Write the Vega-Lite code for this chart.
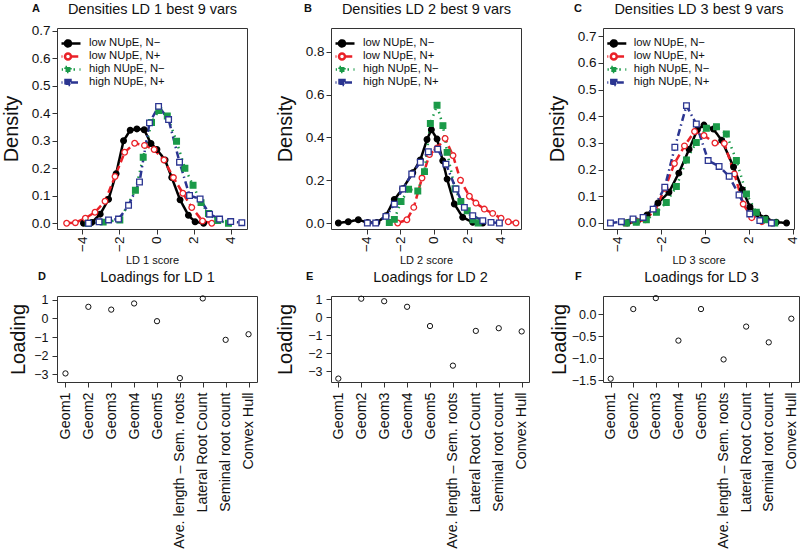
{
"$schema": "https://vega.github.io/schema/vega-lite/v6.json",
"background": "white",
"padding": 0,
"bounds": "flush",
"columns": 3,
"align": "each",
"spacing": {"row": 67, "column": 74},
"config": {
  "font": "Liberation Sans",
  "view": {"stroke": "#333333", "strokeWidth": 1},
  "axis": {"grid": false, "domain": false, "tickColor": "#333333", "tickWidth": 1, "labelColor": "#111111", "titleColor": "#111111", "titleFontWeight": "normal", "labelFont": "Liberation Sans", "titleFont": "Liberation Sans"},
  "title": {"font": "Liberation Sans", "color": "#111111"},
  "legend": {"labelFont": "Liberation Sans"}
},
"datasets": {
  "A": [
    {"s":"low NUpE, N−","x":-3.94,"y":0},{"s":"low NUpE, N−","x":-3.49,"y":0.003},{"s":"low NUpE, N−","x":-3.04,"y":0.033},{"s":"low NUpE, N−","x":-2.59,"y":0.087},{"s":"low NUpE, N−","x":-2.18,"y":0.18},{"s":"low NUpE, N−","x":-1.78,"y":0.3},{"s":"low NUpE, N−","x":-1.42,"y":0.338},{"s":"low NUpE, N−","x":-1.06,"y":0.343},{"s":"low NUpE, N−","x":-0.67,"y":0.34},{"s":"low NUpE, N−","x":-0.3,"y":0.29},{"s":"low NUpE, N−","x":0.02,"y":0.268},{"s":"low NUpE, N−","x":0.46,"y":0.23},{"s":"low NUpE, N−","x":0.82,"y":0.166},{"s":"low NUpE, N−","x":1.27,"y":0.085},{"s":"low NUpE, N−","x":1.72,"y":0.029},{"s":"low NUpE, N−","x":2.08,"y":0.005},{"s":"low NUpE, N−","x":2.54,"y":0},
    {"s":"low NUpE, N+","x":-4.85,"y":0},{"s":"low NUpE, N+","x":-4.38,"y":0.002},{"s":"low NUpE, N+","x":-3.84,"y":0.018},{"s":"low NUpE, N+","x":-3.32,"y":0.04},{"s":"low NUpE, N+","x":-2.78,"y":0.08},{"s":"low NUpE, N+","x":-2.24,"y":0.17},{"s":"low NUpE, N+","x":-1.72,"y":0.258},{"s":"low NUpE, N+","x":-1.18,"y":0.291},{"s":"low NUpE, N+","x":-0.65,"y":0.283},{"s":"low NUpE, N+","x":-0.13,"y":0.268},{"s":"low NUpE, N+","x":0.4,"y":0.23},{"s":"low NUpE, N+","x":0.91,"y":0.166},{"s":"low NUpE, N+","x":1.42,"y":0.109},{"s":"low NUpE, N+","x":1.9,"y":0.057},{"s":"low NUpE, N+","x":2.48,"y":0.008},{"s":"low NUpE, N+","x":2.98,"y":0},
    {"s":"high NUpE, N−","x":-3.69,"y":0},{"s":"high NUpE, N−","x":-2.88,"y":0.004},{"s":"high NUpE, N−","x":-1.98,"y":0.012},{"s":"high NUpE, N−","x":-1.14,"y":0.12},{"s":"high NUpE, N−","x":-0.72,"y":0.24},{"s":"high NUpE, N−","x":-0.27,"y":0.366},{"s":"high NUpE, N−","x":0.12,"y":0.41},{"s":"high NUpE, N−","x":0.58,"y":0.39},{"s":"high NUpE, N−","x":1.08,"y":0.298},{"s":"high NUpE, N−","x":1.53,"y":0.2},{"s":"high NUpE, N−","x":1.97,"y":0.138},{"s":"high NUpE, N−","x":2.4,"y":0.075},{"s":"high NUpE, N−","x":2.8,"y":0.035},{"s":"high NUpE, N−","x":3.3,"y":0.01},{"s":"high NUpE, N−","x":3.88,"y":0},
    {"s":"high NUpE, N+","x":-3.67,"y":0},{"s":"high NUpE, N+","x":-3.1,"y":0.005},{"s":"high NUpE, N+","x":-2.59,"y":0.012},{"s":"high NUpE, N+","x":-2.05,"y":0.015},{"s":"high NUpE, N+","x":-1.51,"y":0.065},{"s":"high NUpE, N+","x":-0.92,"y":0.15},{"s":"high NUpE, N+","x":-0.38,"y":0.365},{"s":"high NUpE, N+","x":0.11,"y":0.425},{"s":"high NUpE, N+","x":0.65,"y":0.377},{"s":"high NUpE, N+","x":1.24,"y":0.222},{"s":"high NUpE, N+","x":1.78,"y":0.101},{"s":"high NUpE, N+","x":2.35,"y":0.088},{"s":"high NUpE, N+","x":2.86,"y":0.033},{"s":"high NUpE, N+","x":3.4,"y":0.015},{"s":"high NUpE, N+","x":4.0,"y":0.006},{"s":"high NUpE, N+","x":4.6,"y":0.002}
  ],
  "B": [
    {"s":"low NUpE, N−","x":-5.69,"y":0},{"s":"low NUpE, N−","x":-5.1,"y":0.006},{"s":"low NUpE, N−","x":-4.5,"y":0.015},{"s":"low NUpE, N−","x":-3.94,"y":0.002},{"s":"low NUpE, N−","x":-3.39,"y":0.002},{"s":"low NUpE, N−","x":-2.85,"y":0.034},{"s":"low NUpE, N−","x":-2.35,"y":0.11},{"s":"low NUpE, N−","x":-1.85,"y":0.16},{"s":"low NUpE, N−","x":-1.25,"y":0.235},{"s":"low NUpE, N−","x":-0.8,"y":0.294},{"s":"low NUpE, N−","x":-0.4,"y":0.39},{"s":"low NUpE, N−","x":-0.14,"y":0.436},{"s":"low NUpE, N−","x":0.2,"y":0.392},{"s":"low NUpE, N−","x":0.54,"y":0.291},{"s":"low NUpE, N−","x":0.8,"y":0.205},{"s":"low NUpE, N−","x":1.23,"y":0.089},{"s":"low NUpE, N−","x":1.73,"y":0.027},{"s":"low NUpE, N−","x":2.33,"y":0.003},{"s":"low NUpE, N−","x":2.93,"y":0},
    {"s":"low NUpE, N+","x":-2.15,"y":0},{"s":"low NUpE, N+","x":-1.6,"y":0.015},{"s":"low NUpE, N+","x":-1.19,"y":0.073},{"s":"low NUpE, N+","x":-0.7,"y":0.21},{"s":"low NUpE, N+","x":-0.25,"y":0.32},{"s":"low NUpE, N+","x":0.2,"y":0.35},{"s":"low NUpE, N+","x":0.68,"y":0.395},{"s":"low NUpE, N+","x":1.15,"y":0.315},{"s":"low NUpE, N+","x":1.6,"y":0.2},{"s":"low NUpE, N+","x":2.13,"y":0.125},{"s":"low NUpE, N+","x":2.52,"y":0.093},{"s":"low NUpE, N+","x":3.02,"y":0.065},{"s":"low NUpE, N+","x":3.52,"y":0.045},{"s":"low NUpE, N+","x":4.02,"y":0.022},{"s":"low NUpE, N+","x":4.45,"y":0.006},{"s":"low NUpE, N+","x":4.91,"y":0},
    {"s":"high NUpE, N−","x":-2.65,"y":0.002},{"s":"high NUpE, N−","x":-2.35,"y":0.017},{"s":"high NUpE, N−","x":-1.95,"y":0.1},{"s":"high NUpE, N−","x":-1.5,"y":0.158},{"s":"high NUpE, N−","x":-0.95,"y":0.15},{"s":"high NUpE, N−","x":-0.55,"y":0.24},{"s":"high NUpE, N−","x":-0.2,"y":0.465},{"s":"high NUpE, N−","x":0.2,"y":0.55},{"s":"high NUpE, N−","x":0.55,"y":0.455},{"s":"high NUpE, N−","x":0.8,"y":0.33},{"s":"high NUpE, N−","x":1.27,"y":0.16},{"s":"high NUpE, N−","x":1.62,"y":0.1},{"s":"high NUpE, N−","x":2.0,"y":0.057},{"s":"high NUpE, N−","x":2.35,"y":0.015},{"s":"high NUpE, N−","x":2.65,"y":0},
    {"s":"high NUpE, N+","x":-3.96,"y":0},{"s":"high NUpE, N+","x":-3.46,"y":0},{"s":"high NUpE, N+","x":-2.85,"y":0.031},{"s":"high NUpE, N+","x":-2.35,"y":0.088},{"s":"high NUpE, N+","x":-1.85,"y":0.159},{"s":"high NUpE, N+","x":-1.31,"y":0.229},{"s":"high NUpE, N+","x":-0.8,"y":0.284},{"s":"high NUpE, N+","x":-0.32,"y":0.333},{"s":"high NUpE, N+","x":0.24,"y":0.345},{"s":"high NUpE, N+","x":0.73,"y":0.275},{"s":"high NUpE, N+","x":1.33,"y":0.159},{"s":"high NUpE, N+","x":1.83,"y":0.073},{"s":"high NUpE, N+","x":2.33,"y":0.034},{"s":"high NUpE, N+","x":2.93,"y":0.011},{"s":"high NUpE, N+","x":3.42,"y":0.003},{"s":"high NUpE, N+","x":3.92,"y":0}
  ],
  "C": [
    {"s":"low NUpE, N−","x":-3.55,"y":0},{"s":"low NUpE, N−","x":-3.1,"y":0.005},{"s":"low NUpE, N−","x":-2.65,"y":0.03},{"s":"low NUpE, N−","x":-2.15,"y":0.075},{"s":"low NUpE, N−","x":-1.65,"y":0.115},{"s":"low NUpE, N−","x":-1.2,"y":0.187},{"s":"low NUpE, N−","x":-0.73,"y":0.276},{"s":"low NUpE, N−","x":-0.35,"y":0.35},{"s":"low NUpE, N−","x":-0.05,"y":0.367},{"s":"low NUpE, N−","x":0.38,"y":0.352},{"s":"low NUpE, N−","x":0.76,"y":0.31},{"s":"low NUpE, N−","x":1.3,"y":0.21},{"s":"low NUpE, N−","x":1.7,"y":0.125},{"s":"low NUpE, N−","x":2.05,"y":0.06},{"s":"low NUpE, N−","x":2.4,"y":0.035},{"s":"low NUpE, N−","x":2.78,"y":0.018},{"s":"low NUpE, N−","x":3.25,"y":0.003},{"s":"low NUpE, N−","x":3.72,"y":0},
    {"s":"low NUpE, N+","x":-3.65,"y":0},{"s":"low NUpE, N+","x":-3.12,"y":0.005},{"s":"low NUpE, N+","x":-2.72,"y":0.012},{"s":"low NUpE, N+","x":-2.28,"y":0.05},{"s":"low NUpE, N+","x":-1.83,"y":0.13},{"s":"low NUpE, N+","x":-1.4,"y":0.223},{"s":"low NUpE, N+","x":-0.94,"y":0.289},{"s":"low NUpE, N+","x":-0.48,"y":0.343},{"s":"low NUpE, N+","x":-0.05,"y":0.328},{"s":"low NUpE, N+","x":0.45,"y":0.3},{"s":"low NUpE, N+","x":0.88,"y":0.298},{"s":"low NUpE, N+","x":1.34,"y":0.184},{"s":"low NUpE, N+","x":1.74,"y":0.071},{"s":"low NUpE, N+","x":2.13,"y":0.02},{"s":"low NUpE, N+","x":2.59,"y":0.005},{"s":"low NUpE, N+","x":3.04,"y":0},
    {"s":"high NUpE, N−","x":-3.59,"y":0},{"s":"high NUpE, N−","x":-3.14,"y":0.003},{"s":"high NUpE, N−","x":-2.68,"y":0.012},{"s":"high NUpE, N−","x":-2.22,"y":0.04},{"s":"high NUpE, N−","x":-1.77,"y":0.077},{"s":"high NUpE, N−","x":-1.31,"y":0.137},{"s":"high NUpE, N−","x":-0.85,"y":0.236},{"s":"high NUpE, N−","x":-0.4,"y":0.302},{"s":"high NUpE, N−","x":0.06,"y":0.355},{"s":"high NUpE, N−","x":0.52,"y":0.361},{"s":"high NUpE, N−","x":0.97,"y":0.334},{"s":"high NUpE, N−","x":1.43,"y":0.234},{"s":"high NUpE, N−","x":1.89,"y":0.109},{"s":"high NUpE, N−","x":2.34,"y":0.04},{"s":"high NUpE, N−","x":2.73,"y":0.012},{"s":"high NUpE, N−","x":3.18,"y":0},
    {"s":"high NUpE, N+","x":-4.32,"y":0},{"s":"high NUpE, N+","x":-3.82,"y":0.005},{"s":"high NUpE, N+","x":-3.29,"y":0.015},{"s":"high NUpE, N+","x":-2.83,"y":0.021},{"s":"high NUpE, N+","x":-2.37,"y":0.052},{"s":"high NUpE, N+","x":-1.84,"y":0.134},{"s":"high NUpE, N+","x":-1.38,"y":0.284},{"s":"high NUpE, N+","x":-0.85,"y":0.44},{"s":"high NUpE, N+","x":-0.4,"y":0.371},{"s":"high NUpE, N+","x":0.14,"y":0.234},{"s":"high NUpE, N+","x":0.64,"y":0.212},{"s":"high NUpE, N+","x":1.1,"y":0.175},{"s":"high NUpE, N+","x":1.55,"y":0.105},{"s":"high NUpE, N+","x":2.04,"y":0.034},{"s":"high NUpE, N+","x":2.5,"y":0.009},{"s":"high NUpE, N+","x":3.03,"y":0}
  ],
  "D": [
    {"v":"Geom1","l":-2.95},{"v":"Geom2","l":0.62},{"v":"Geom3","l":0.47},{"v":"Geom4","l":0.8},{"v":"Geom5","l":-0.15},{"v":"Ave. length – Sem. roots","l":-3.2},{"v":"Lateral Root Count","l":1.07},{"v":"Seminal root count","l":-1.15},{"v":"Convex Hull","l":-0.85}
  ],
  "E": [
    {"v":"Geom1","l":-3.42},{"v":"Geom2","l":1.02},{"v":"Geom3","l":0.88},{"v":"Geom4","l":0.57},{"v":"Geom5","l":-0.5},{"v":"Ave. length – Sem. roots","l":-2.7},{"v":"Lateral Root Count","l":-0.77},{"v":"Seminal root count","l":-0.62},{"v":"Convex Hull","l":-0.8}
  ],
  "F": [
    {"v":"Geom1","l":-1.47},{"v":"Geom2","l":0.12},{"v":"Geom3","l":0.37},{"v":"Geom4","l":-0.6},{"v":"Geom5","l":0.12},{"v":"Ave. length – Sem. roots","l":-1.03},{"v":"Lateral Root Count","l":-0.28},{"v":"Seminal root count","l":-0.64},{"v":"Convex Hull","l":-0.1}
  ]
},
"concat": [
  {
    "width": 190, "height": 201,
    "title": {"text": "A", "anchor": "start", "frame": "group", "dx": -25, "offset": -13, "fontSize": 11, "fontWeight": "bold"},
    "data": {"name": "A"},
    "encoding": {"y": {"field": "y", "type": "quantitative", "scale": {"domain": [-0.021, 0.71], "nice": false, "zero": false}, "axis": {"title": "Density", "values": [0,0.1,0.2,0.3,0.4,0.5,0.6,0.7], "format": ".1f", "labelFontSize": 13.5, "titleFontSize": 20, "titlePadding": 10, "tickSize": 5, "labelPadding": 2}}},
    "layer": [
      {"mark": {"type": "line", "strokeWidth": 2.5},
       "encoding": {
         "x": {"field": "x", "type": "quantitative", "scale": {"domain": [-5.37, 4.88], "nice": false, "zero": false}, "axis": {"title": "LD 1 score", "values": [-4,-2,0,2,4], "format": "d", "labelAngle": -90, "labelFontSize": 13.5, "titleFontSize": 11, "titlePadding": 3.5, "tickSize": 5, "labelPadding": 2}},
         "color": {"field": "s", "type": "nominal", "legend": null, "scale": {"domain": ["low NUpE, N−","low NUpE, N+","high NUpE, N−","high NUpE, N+"], "range": ["#000000","#ea2128","#1a9a48","#2b3591"]}},
         "strokeDash": {"field": "s", "type": "nominal", "legend": null, "scale": {"domain": ["low NUpE, N−","low NUpE, N+","high NUpE, N−","high NUpE, N+"], "range": [[1,0],[7,4],[1.5,4.5],[7,3.5,1.5,3.5]]}}
       }},
      {"mark": {"type": "point", "size": 32, "strokeWidth": 1.3, "opacity": 1, "filled": false},
       "encoding": {
         "x": {"field": "x", "type": "quantitative", "scale": {"domain": [-5.37, 4.88], "nice": false, "zero": false}, "axis": null},
         "color": {"field": "s", "type": "nominal", "legend": null, "scale": {"domain": ["low NUpE, N−","low NUpE, N+","high NUpE, N−","high NUpE, N+"], "range": ["#000000","#ea2128","#1a9a48","#2b3591"]}},
         "fill": {"field": "s", "type": "nominal", "legend": null, "scale": {"domain": ["low NUpE, N−","low NUpE, N+","high NUpE, N−","high NUpE, N+"], "range": ["#000000","#ffffff","#1a9a48","#ffffff"]}},
         "shape": {"field": "s", "type": "nominal", "legend": null, "scale": {"domain": ["low NUpE, N−","low NUpE, N+","high NUpE, N−","high NUpE, N+"], "range": ["circle","circle","square","square"]}}
       }},
      {"transform": [{"filter": "false"}],
       "mark": {"type": "point", "size": 100, "strokeWidth": 2.5, "opacity": 1, "filled": false},
       "encoding": {
         "x": {"field": "x", "type": "quantitative", "scale": {"domain": [-5.37, 4.88], "nice": false, "zero": false}, "axis": {"orient": "top", "title": "Densities LD 1 best 9 vars", "labels": false, "ticks": false, "domain": false, "titleFontSize": 14.5, "titlePadding": 12}},
         "color": {"field": "s", "type": "nominal", "scale": {"domain": ["low NUpE, N−","low NUpE, N+","high NUpE, N−","high NUpE, N+"], "range": ["#000000","#ea2128","#1a9a48","#2b3591"]}, "legend": {"title": null, "orient": "none", "legendX": 4.5, "legendY": 9, "labelFontSize": 11.3, "labelOffset": 14.5, "symbolSize": 100, "symbolStrokeWidth": 2.5, "rowPadding": 0, "clipHeight": 12.9, "padding": 0, "labelColor": "#111111", "symbolOpacity": 1}},
         "fill": {"field": "s", "type": "nominal", "scale": {"domain": ["low NUpE, N−","low NUpE, N+","high NUpE, N−","high NUpE, N+"], "range": ["#000000","#ffffff","#1a9a48","#2b3591"]}},
         "shape": {"field": "s", "type": "nominal", "scale": {"domain": ["low NUpE, N−","low NUpE, N+","high NUpE, N−","high NUpE, N+"], "range": ["M-2.5,0H2.5M0.6,0A0.6,0.6,0,1,1,-0.6,0A0.6,0.6,0,1,1,0.6,0Z","M-2.5,0H-0.65M0.65,0H2.5M0.6,0A0.6,0.6,0,0,1,0,0.6M0,0.6A0.6,0.6,0,0,1,-0.6,0M-0.6,0A0.6,0.6,0,0,1,0,-0.6M0,-0.6A0.6,0.6,0,0,1,0.6,0","M-2.5,0H2.5M-0.5,-0.5H0.5V0.5H-0.5Z","M-2.5,0H2.5M-0.5,-0.5H0.5V0.5H-0.5Z"]}},
         "strokeDash": {"field": "s", "type": "nominal", "scale": {"domain": ["low NUpE, N−","low NUpE, N+","high NUpE, N−","high NUpE, N+"], "range": [[1,0],[7,4],[1.5,4.5],[7,3.5,1.5,3.5]]}}
       }}
    ],
    "resolve": {"scale": {"color": "independent", "fill": "independent", "shape": "independent", "strokeDash": "independent"}, "axis": {"x": "independent"}}
  },
  {
    "width": 190, "height": 201,
    "title": {"text": "B", "anchor": "start", "frame": "group", "dx": -27, "offset": -13, "fontSize": 11, "fontWeight": "bold"},
    "data": {"name": "B"},
    "encoding": {"y": {"field": "y", "type": "quantitative", "scale": {"domain": [-0.028, 0.911], "nice": false, "zero": false}, "axis": {"title": "Density", "values": [0,0.2,0.4,0.6,0.8], "format": ".1f", "labelFontSize": 13.5, "titleFontSize": 20, "titlePadding": 10, "tickSize": 5, "labelPadding": 2}}},
    "layer": [
      {"mark": {"type": "line", "strokeWidth": 2.5},
       "encoding": {
         "x": {"field": "x", "type": "quantitative", "scale": {"domain": [-6.13, 5.21], "nice": false, "zero": false}, "axis": {"title": "LD 2 score", "values": [-4,-2,0,2,4], "format": "d", "labelAngle": -90, "labelFontSize": 13.5, "titleFontSize": 11, "titlePadding": 3.5, "tickSize": 5, "labelPadding": 2}},
         "color": {"field": "s", "type": "nominal", "legend": null, "scale": {"domain": ["low NUpE, N−","low NUpE, N+","high NUpE, N−","high NUpE, N+"], "range": ["#000000","#ea2128","#1a9a48","#2b3591"]}},
         "strokeDash": {"field": "s", "type": "nominal", "legend": null, "scale": {"domain": ["low NUpE, N−","low NUpE, N+","high NUpE, N−","high NUpE, N+"], "range": [[1,0],[7,4],[1.5,4.5],[7,3.5,1.5,3.5]]}}
       }},
      {"mark": {"type": "point", "size": 32, "strokeWidth": 1.3, "opacity": 1, "filled": false},
       "encoding": {
         "x": {"field": "x", "type": "quantitative", "scale": {"domain": [-6.13, 5.21], "nice": false, "zero": false}, "axis": null},
         "color": {"field": "s", "type": "nominal", "legend": null, "scale": {"domain": ["low NUpE, N−","low NUpE, N+","high NUpE, N−","high NUpE, N+"], "range": ["#000000","#ea2128","#1a9a48","#2b3591"]}},
         "fill": {"field": "s", "type": "nominal", "legend": null, "scale": {"domain": ["low NUpE, N−","low NUpE, N+","high NUpE, N−","high NUpE, N+"], "range": ["#000000","#ffffff","#1a9a48","#ffffff"]}},
         "shape": {"field": "s", "type": "nominal", "legend": null, "scale": {"domain": ["low NUpE, N−","low NUpE, N+","high NUpE, N−","high NUpE, N+"], "range": ["circle","circle","square","square"]}}
       }},
      {"transform": [{"filter": "false"}],
       "mark": {"type": "point", "size": 100, "strokeWidth": 2.5, "opacity": 1, "filled": false},
       "encoding": {
         "x": {"field": "x", "type": "quantitative", "scale": {"domain": [-6.13, 5.21], "nice": false, "zero": false}, "axis": {"orient": "top", "title": "Densities LD 2 best 9 vars", "labels": false, "ticks": false, "domain": false, "titleFontSize": 14.5, "titlePadding": 12}},
         "color": {"field": "s", "type": "nominal", "scale": {"domain": ["low NUpE, N−","low NUpE, N+","high NUpE, N−","high NUpE, N+"], "range": ["#000000","#ea2128","#1a9a48","#2b3591"]}, "legend": {"title": null, "orient": "none", "legendX": 4.5, "legendY": 9, "labelFontSize": 11.3, "labelOffset": 14.5, "symbolSize": 100, "symbolStrokeWidth": 2.5, "rowPadding": 0, "clipHeight": 12.9, "padding": 0, "labelColor": "#111111", "symbolOpacity": 1}},
         "fill": {"field": "s", "type": "nominal", "scale": {"domain": ["low NUpE, N−","low NUpE, N+","high NUpE, N−","high NUpE, N+"], "range": ["#000000","#ffffff","#1a9a48","#2b3591"]}},
         "shape": {"field": "s", "type": "nominal", "scale": {"domain": ["low NUpE, N−","low NUpE, N+","high NUpE, N−","high NUpE, N+"], "range": ["M-2.5,0H2.5M0.6,0A0.6,0.6,0,1,1,-0.6,0A0.6,0.6,0,1,1,0.6,0Z","M-2.5,0H-0.65M0.65,0H2.5M0.6,0A0.6,0.6,0,0,1,0,0.6M0,0.6A0.6,0.6,0,0,1,-0.6,0M-0.6,0A0.6,0.6,0,0,1,0,-0.6M0,-0.6A0.6,0.6,0,0,1,0.6,0","M-2.5,0H2.5M-0.5,-0.5H0.5V0.5H-0.5Z","M-2.5,0H2.5M-0.5,-0.5H0.5V0.5H-0.5Z"]}},
         "strokeDash": {"field": "s", "type": "nominal", "scale": {"domain": ["low NUpE, N−","low NUpE, N+","high NUpE, N−","high NUpE, N+"], "range": [[1,0],[7,4],[1.5,4.5],[7,3.5,1.5,3.5]]}}
       }}
    ],
    "resolve": {"scale": {"color": "independent", "fill": "independent", "shape": "independent", "strokeDash": "independent"}, "axis": {"x": "independent"}}
  },
  {
    "width": 191, "height": 201,
    "title": {"text": "C", "anchor": "start", "frame": "group", "dx": -29, "offset": -13, "fontSize": 11, "fontWeight": "bold"},
    "data": {"name": "C"},
    "encoding": {"y": {"field": "y", "type": "quantitative", "scale": {"domain": [-0.0225, 0.731], "nice": false, "zero": false}, "axis": {"title": "Density", "values": [0,0.1,0.2,0.3,0.4,0.5,0.6,0.7], "format": ".1f", "labelFontSize": 13.5, "titleFontSize": 20, "titlePadding": 10, "tickSize": 5, "labelPadding": 2}}},
    "layer": [
      {"mark": {"type": "line", "strokeWidth": 2.5},
       "encoding": {
         "x": {"field": "x", "type": "quantitative", "scale": {"domain": [-4.66, 4.06], "nice": false, "zero": false}, "axis": {"title": "LD 3 score", "values": [-4,-2,0,2,4], "format": "d", "labelAngle": -90, "labelFontSize": 13.5, "titleFontSize": 11, "titlePadding": 3.5, "tickSize": 5, "labelPadding": 2}},
         "color": {"field": "s", "type": "nominal", "legend": null, "scale": {"domain": ["low NUpE, N−","low NUpE, N+","high NUpE, N−","high NUpE, N+"], "range": ["#000000","#ea2128","#1a9a48","#2b3591"]}},
         "strokeDash": {"field": "s", "type": "nominal", "legend": null, "scale": {"domain": ["low NUpE, N−","low NUpE, N+","high NUpE, N−","high NUpE, N+"], "range": [[1,0],[7,4],[1.5,4.5],[7,3.5,1.5,3.5]]}}
       }},
      {"mark": {"type": "point", "size": 32, "strokeWidth": 1.3, "opacity": 1, "filled": false},
       "encoding": {
         "x": {"field": "x", "type": "quantitative", "scale": {"domain": [-4.66, 4.06], "nice": false, "zero": false}, "axis": null},
         "color": {"field": "s", "type": "nominal", "legend": null, "scale": {"domain": ["low NUpE, N−","low NUpE, N+","high NUpE, N−","high NUpE, N+"], "range": ["#000000","#ea2128","#1a9a48","#2b3591"]}},
         "fill": {"field": "s", "type": "nominal", "legend": null, "scale": {"domain": ["low NUpE, N−","low NUpE, N+","high NUpE, N−","high NUpE, N+"], "range": ["#000000","#ffffff","#1a9a48","#ffffff"]}},
         "shape": {"field": "s", "type": "nominal", "legend": null, "scale": {"domain": ["low NUpE, N−","low NUpE, N+","high NUpE, N−","high NUpE, N+"], "range": ["circle","circle","square","square"]}}
       }},
      {"transform": [{"filter": "false"}],
       "mark": {"type": "point", "size": 100, "strokeWidth": 2.5, "opacity": 1, "filled": false},
       "encoding": {
         "x": {"field": "x", "type": "quantitative", "scale": {"domain": [-4.66, 4.06], "nice": false, "zero": false}, "axis": {"orient": "top", "title": "Densities LD 3 best 9 vars", "labels": false, "ticks": false, "domain": false, "titleFontSize": 14.5, "titlePadding": 12}},
         "color": {"field": "s", "type": "nominal", "scale": {"domain": ["low NUpE, N−","low NUpE, N+","high NUpE, N−","high NUpE, N+"], "range": ["#000000","#ea2128","#1a9a48","#2b3591"]}, "legend": {"title": null, "orient": "none", "legendX": 4.3, "legendY": 9, "labelFontSize": 11.3, "labelOffset": 13.4, "symbolSize": 100, "symbolStrokeWidth": 2.5, "rowPadding": 0, "clipHeight": 12.9, "padding": 0, "labelColor": "#111111", "symbolOpacity": 1}},
         "fill": {"field": "s", "type": "nominal", "scale": {"domain": ["low NUpE, N−","low NUpE, N+","high NUpE, N−","high NUpE, N+"], "range": ["#000000","#ffffff","#1a9a48","#2b3591"]}},
         "shape": {"field": "s", "type": "nominal", "scale": {"domain": ["low NUpE, N−","low NUpE, N+","high NUpE, N−","high NUpE, N+"], "range": ["M-2.5,0H2.5M0.6,0A0.6,0.6,0,1,1,-0.6,0A0.6,0.6,0,1,1,0.6,0Z","M-2.5,0H-0.65M0.65,0H2.5M0.6,0A0.6,0.6,0,0,1,0,0.6M0,0.6A0.6,0.6,0,0,1,-0.6,0M-0.6,0A0.6,0.6,0,0,1,0,-0.6M0,-0.6A0.6,0.6,0,0,1,0.6,0","M-2.5,0H2.5M-0.5,-0.5H0.5V0.5H-0.5Z","M-2.5,0H2.5M-0.5,-0.5H0.5V0.5H-0.5Z"]}},
         "strokeDash": {"field": "s", "type": "nominal", "scale": {"domain": ["low NUpE, N−","low NUpE, N+","high NUpE, N−","high NUpE, N+"], "range": [[1,0],[7,4],[1.5,4.5],[7,3.5,1.5,3.5]]}}
       }}
    ],
    "resolve": {"scale": {"color": "independent", "fill": "independent", "shape": "independent", "strokeDash": "independent"}, "axis": {"x": "independent"}}
  },
  {
    "width": 200, "height": 86,
    "title": {"text": "D", "anchor": "start", "frame": "group", "dx": -19, "offset": -12, "fontSize": 11, "fontWeight": "bold"},
    "data": {"name": "D"},
    "encoding": {"y": {"field": "l", "type": "quantitative", "scale": {"domain": [-3.41, 1.2], "nice": false, "zero": false}, "axis": {"title": "Loading", "values": [-3,-2,-1,0,1], "format": "d", "labelFontSize": 12.5, "titleFontSize": 20, "titlePadding": 5, "tickSize": 5, "labelPadding": 4}}},
    "layer": [
      {"mark": {"type": "point", "shape": "circle", "size": 28, "strokeWidth": 1, "color": "#111111", "filled": false, "opacity": 1},
       "encoding": {"x": {"field": "v", "type": "nominal", "sort": null, "scale": {"type": "point", "padding": 0.37, "domain": ["Geom1","Geom2","Geom3","Geom4","Geom5","Ave. length – Sem. roots","Lateral Root Count","Seminal root count","Convex Hull"]}, "axis": {"title": null, "labelAngle": -90, "labelFontSize": 14.3, "labelLimit": 400, "tickSize": 5, "labelPadding": 5}}}},
      {"transform": [{"filter": "false"}],
       "mark": {"type": "point"},
       "encoding": {"x": {"field": "v", "type": "nominal", "sort": null, "scale": {"type": "point", "padding": 0.37, "domain": ["Geom1","Geom2","Geom3","Geom4","Geom5","Ave. length – Sem. roots","Lateral Root Count","Seminal root count","Convex Hull"]}, "axis": {"orient": "top", "title": "Loadings for LD 1", "labels": false, "ticks": false, "domain": false, "titleFontSize": 14.5, "titlePadding": 11.5}}}}
    ],
    "resolve": {"axis": {"x": "independent"}}
  },
  {
    "width": 198, "height": 86,
    "title": {"text": "E", "anchor": "start", "frame": "group", "dx": -25, "offset": -12, "fontSize": 11, "fontWeight": "bold"},
    "data": {"name": "E"},
    "encoding": {"y": {"field": "l", "type": "quantitative", "scale": {"domain": [-3.61, 1.17], "nice": false, "zero": false}, "axis": {"title": "Loading", "values": [-3,-2,-1,0,1], "format": "d", "labelFontSize": 12.5, "titleFontSize": 20, "titlePadding": 12, "tickSize": 5, "labelPadding": 4}}},
    "layer": [
      {"mark": {"type": "point", "shape": "circle", "size": 28, "strokeWidth": 1, "color": "#111111", "filled": false, "opacity": 1},
       "encoding": {"x": {"field": "v", "type": "nominal", "sort": null, "scale": {"type": "point", "padding": 0.32, "domain": ["Geom1","Geom2","Geom3","Geom4","Geom5","Ave. length – Sem. roots","Lateral Root Count","Seminal root count","Convex Hull"]}, "axis": {"title": null, "labelAngle": -90, "labelFontSize": 14.3, "labelLimit": 400, "tickSize": 5, "labelPadding": 5}}}},
      {"transform": [{"filter": "false"}],
       "mark": {"type": "point"},
       "encoding": {"x": {"field": "v", "type": "nominal", "sort": null, "scale": {"type": "point", "padding": 0.32, "domain": ["Geom1","Geom2","Geom3","Geom4","Geom5","Ave. length – Sem. roots","Lateral Root Count","Seminal root count","Convex Hull"]}, "axis": {"orient": "top", "title": "Loadings for LD 2", "labels": false, "ticks": false, "domain": false, "titleFontSize": 14.5, "titlePadding": 11.5}}}}
    ],
    "resolve": {"axis": {"x": "independent"}}
  },
  {
    "width": 196, "height": 86,
    "title": {"text": "F", "anchor": "start", "frame": "group", "dx": -28, "offset": -12, "fontSize": 11, "fontWeight": "bold"},
    "data": {"name": "F"},
    "encoding": {"y": {"field": "l", "type": "quantitative", "scale": {"domain": [-1.545, 0.418], "nice": false, "zero": false}, "axis": {"title": "Loading", "values": [-1.5,-1,-0.5,0], "format": ".1f", "labelFontSize": 12.5, "titleFontSize": 20, "titlePadding": 1.5, "tickSize": 5, "labelPadding": 2}}},
    "layer": [
      {"mark": {"type": "point", "shape": "circle", "size": 28, "strokeWidth": 1, "color": "#111111", "filled": false, "opacity": 1},
       "encoding": {"x": {"field": "v", "type": "nominal", "sort": null, "scale": {"type": "point", "padding": 0.34, "domain": ["Geom1","Geom2","Geom3","Geom4","Geom5","Ave. length – Sem. roots","Lateral Root Count","Seminal root count","Convex Hull"]}, "axis": {"title": null, "labelAngle": -90, "labelFontSize": 14.3, "labelLimit": 400, "tickSize": 5, "labelPadding": 5}}}},
      {"transform": [{"filter": "false"}],
       "mark": {"type": "point"},
       "encoding": {"x": {"field": "v", "type": "nominal", "sort": null, "scale": {"type": "point", "padding": 0.34, "domain": ["Geom1","Geom2","Geom3","Geom4","Geom5","Ave. length – Sem. roots","Lateral Root Count","Seminal root count","Convex Hull"]}, "axis": {"orient": "top", "title": "Loadings for LD 3", "labels": false, "ticks": false, "domain": false, "titleFontSize": 14.5, "titlePadding": 11.5}}}}
    ],
    "resolve": {"axis": {"x": "independent"}}
  }
]
}
